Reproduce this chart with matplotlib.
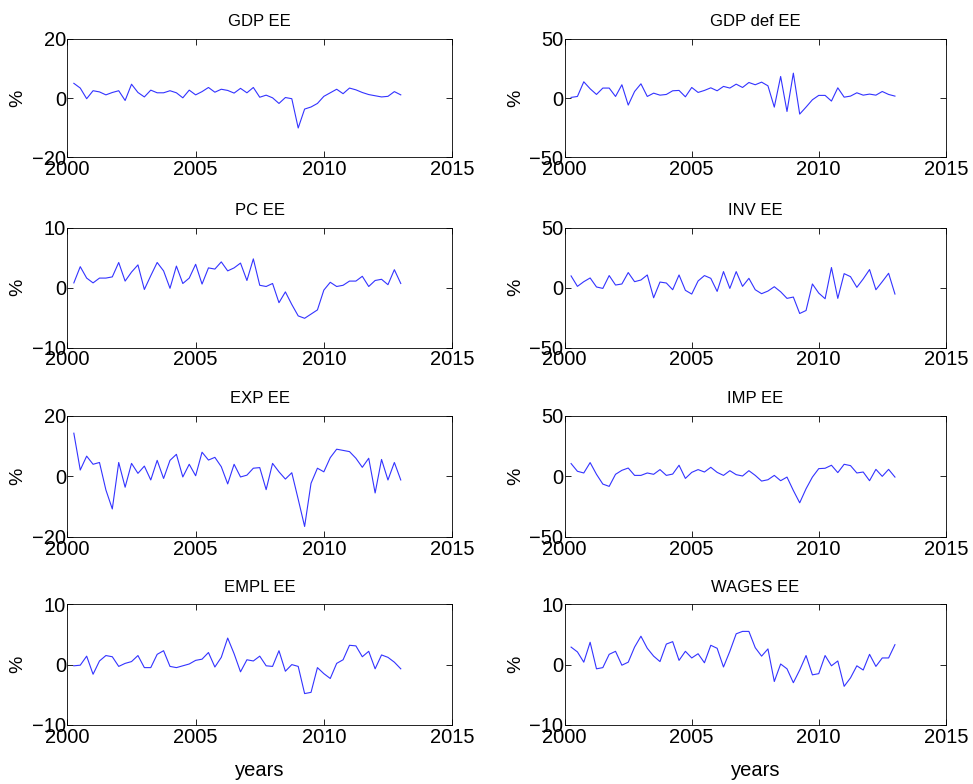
import numpy as np
import matplotlib
matplotlib.use("Agg")
import matplotlib.pyplot as plt

plt.rcParams['font.family'] = ['Liberation Sans', 'DejaVu Sans']

# quarterly dates 2000Q2 .. 2013Q1 expressed as decimal years
start_year = 2000.25
n_quarters = 52
years = start_year + 0.25 * np.arange(n_quarters)

gdp = [5.0, 3.4, -0.2, 2.5, 2.1, 1.1, 1.9, 2.5, -0.8, 4.7, 1.9, 0.4, 2.7, 1.8, 1.8, 2.5,
       1.8, 0.1, 2.7, 1.1, 2.2, 3.6, 2.0, 3.0, 2.6, 1.7, 3.3, 1.8, 3.6, 0.3, 1.0, 0.1,
       -1.8, 0.2, -0.2, -10.1, -3.7, -3.0, -1.8, 0.6, 1.8, 3.0, 1.5, 3.4, 2.8, 1.9, 1.2, 0.8,
       0.4, 0.6, 2.2, 1.1]
gdp_def = [0.6, 1.4, 13.8, 7.9, 3.1, 8.5, 8.5, 1.4, 11.3, -5.9, 5.6, 12.1, 1.4, 4.2, 2.5, 3.1,
           6.2, 6.5, 1.1, 9.0, 4.8, 6.5, 8.7, 6.2, 9.9, 8.5, 11.8, 9.0, 13.2, 11.3, 13.5, 10.4,
           -7.6, 18.3, -11.3, 21.1, -13.5, -7.6, -1.4, 2.3, 2.3, -2.5, 8.7, 0.8, 1.7, 4.5, 2.5, 3.4,
           2.5, 5.6, 3.1, 1.7]
pc = [0.8, 3.5, 1.6, 0.8, 1.6, 1.6, 1.8, 4.2, 1.1, 2.6, 3.8, -0.3, 2.0, 4.2, 2.8, -0.1,
      3.6, 0.7, 1.6, 3.9, 0.6, 3.3, 3.1, 4.3, 2.8, 3.3, 4.1, 1.2, 4.8, 0.4, 0.2, 0.7,
      -2.5, -0.7, -2.8, -4.7, -5.1, -4.4, -3.7, -0.4, 0.9, 0.2, 0.4, 1.1, 1.1, 1.9, 0.2, 1.2,
      1.4, 0.5, 3.0, 0.7]
inv = [9.8, 1.1, 5.0, 8.1, 0.6, -0.6, 10.1, 2.2, 3.1, 12.6, 5.0, 6.4, 10.6, -8.4, 4.7, 3.9,
       -1.7, 10.6, -2.2, -5.3, 5.6, 10.1, 7.8, -3.1, 13.4, -0.6, 13.4, 1.1, 7.8, -1.7, -5.0, -2.8,
       0.8, -3.4, -8.9, -7.8, -21.5, -19.0, 3.1, -4.5, -9.2, 16.8, -8.9, 11.7, 9.2, 0.3, 7.3, 15.1,
       -1.7, 5.0, 12.0, -5.3]
exp_ = [14.3, 2.1, 6.7, 4.0, 4.6, -4.5, -10.8, 4.6, -3.6, 4.3, 1.0, 3.4, -1.2, 5.3, -0.7, 5.3,
        7.3, -0.2, 4.0, 0.2, 8.0, 5.4, 6.3, 3.2, -2.5, 4.0, -0.2, 0.4, 2.7, 2.9, -4.4, 4.3,
        1.5, -0.9, 1.2, -7.6, -16.6, -2.3, 2.7, 1.5, 6.2, 9.0, 8.6, 8.2, 6.0, 3.0, 6.0, -5.5,
        5.6, -1.2, 4.6, -1.2]
imp = [10.6, 4.2, 2.8, 11.4, 1.7, -6.4, -8.3, 1.7, 5.0, 6.9, 0.8, 0.8, 2.8, 1.7, 5.6, 0.8,
       1.9, 9.2, -1.7, 3.3, 5.6, 3.6, 7.5, 3.3, 0.8, 4.7, 1.4, 0.3, 4.7, 0.8, -3.9, -2.8,
       0.8, -3.6, -0.6, -11.7, -21.9, -10.3, -0.6, 6.4, 6.7, 9.2, 3.1, 10.0, 8.9, 2.8, 3.6, -3.6,
       5.8, 0.0, 5.8, -0.6]
empl = [-0.2, -0.1, 1.4, -1.6, 0.6, 1.5, 1.3, -0.3, 0.2, 0.5, 1.5, -0.5, -0.5, 1.7, 2.3, -0.3,
        -0.5, -0.2, 0.1, 0.7, 0.9, 2.0, -0.4, 1.2, 4.4, 1.8, -1.2, 0.8, 0.6, 1.4, -0.2, -0.3,
        2.3, -1.1, 0.0, -0.3, -4.8, -4.6, -0.5, -1.5, -2.3, 0.2, 0.8, 3.2, 3.1, 1.3, 2.2, -0.7,
        1.6, 1.2, 0.4, -0.7]
wages = [2.9, 2.1, 0.4, 3.7, -0.7, -0.5, 1.7, 2.2, -0.1, 0.4, 2.9, 4.7, 2.7, 1.4, 0.5, 3.4,
         3.8, 0.7, 2.2, 1.1, 1.8, 0.3, 3.2, 2.7, -0.4, 2.2, 5.1, 5.5, 5.5, 2.8, 1.4, 2.6,
         -2.8, 0.1, -0.7, -3.0, -0.9, 1.5, -1.7, -1.5, 1.5, -0.2, 0.6, -3.6, -2.2, -0.2, -0.9, 1.7,
         -0.3, 1.1, 1.1, 3.3]

titles = ["GDP EE", "GDP def EE", "PC EE", "INV EE", "EXP EE", "IMP EE", "EMPL EE", "WAGES EE"]
series = [gdp, gdp_def, pc, inv, exp_, imp, empl, wages]
ylims = [20, 50, 10, 50, 20, 50, 10, 10]
xticks = [2000, 2005, 2010, 2015]

fig = plt.figure(figsize=(9.73, 7.84), dpi=100)
lefts = [0.0693, 0.5804]
widths = [0.3953, 0.3916]
bottoms = [0.7994, 0.5565, 0.3154, 0.0753]
heights = [0.1509, 0.1531, 0.1540, 0.1540]

for k, (t, s, yl) in enumerate(zip(titles, series, ylims)):
    r, c = divmod(k, 2)
    ax = fig.add_axes([lefts[c], bottoms[r], widths[c], heights[r]])
    ax.plot(years, s, color=(0.2, 0.2, 1.0), lw=0.8)
    ax.set_xlim(2000, 2015)
    ax.set_ylim(-yl, yl)
    ax.set_xticks(xticks)
    ax.set_yticks([-yl, 0, yl])
    ax.tick_params(direction='in', top=True, right=True, labelsize=14.5, length=4,
                   width=0.6)
    ax.tick_params(axis='x', pad=2)
    ax.tick_params(axis='y', pad=1)
    for sp in ax.spines.values():
        sp.set_linewidth(0.6)
    ax.set_title(t, fontsize=12, pad=9)
    ax.set_ylabel('%', fontsize=14, labelpad=4)
    if r == 3:
        ax.set_xlabel('years', fontsize=14.5, labelpad=10)

fig.savefig('out.png', dpi=100)
